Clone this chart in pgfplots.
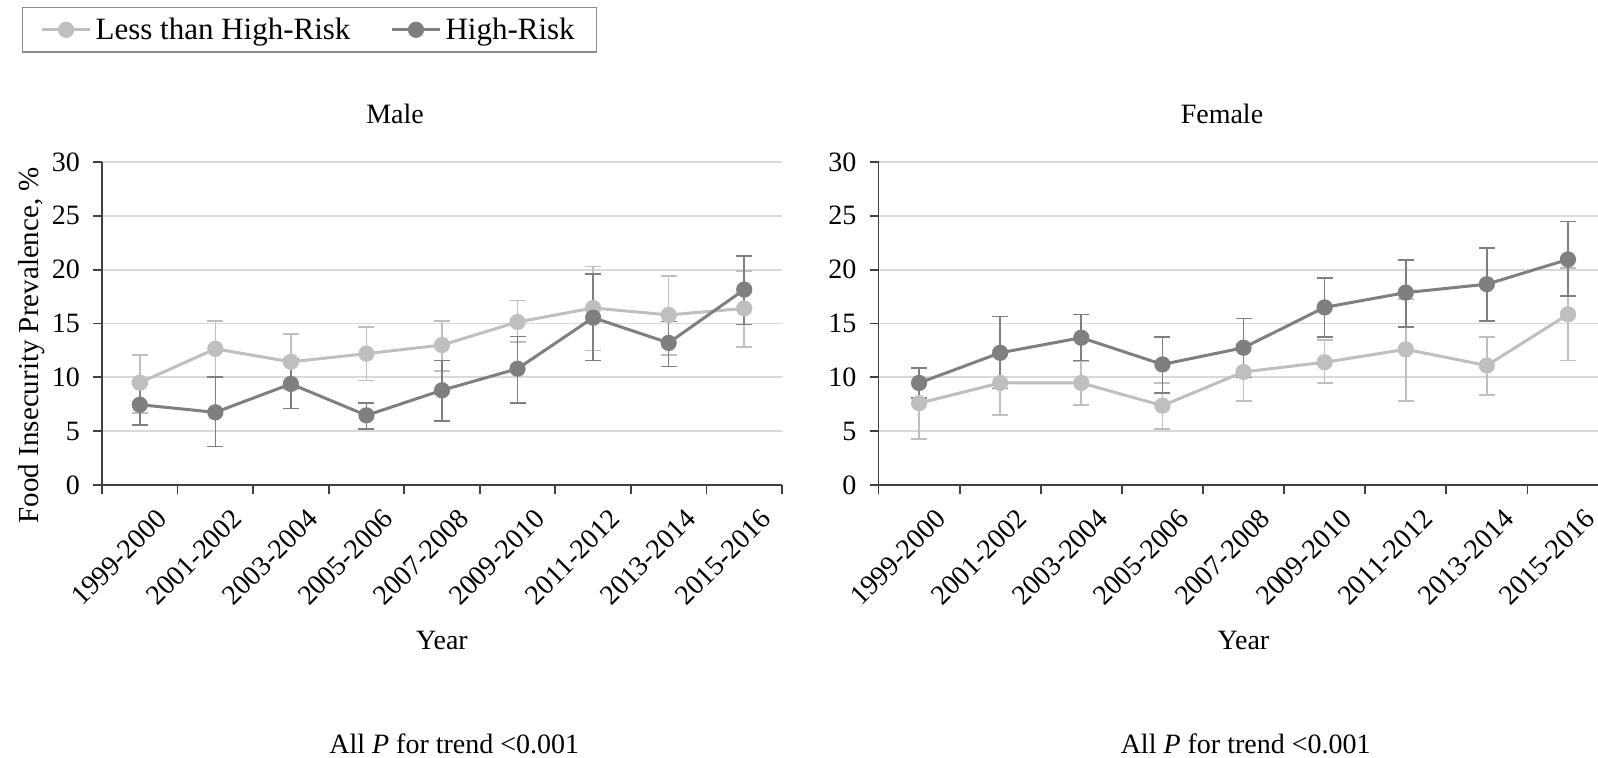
\documentclass[border=0pt]{standalone}
\usepackage{pgfplots}
\pgfplotsset{compat=1.18}
\usepackage{pgfplotstable}
\usepackage{fontspec}
\setmainfont{Liberation Serif}
\definecolor{lightser}{HTML}{BFBFBF}
\definecolor{darkser}{HTML}{7F7F7F}
\definecolor{gridc}{HTML}{D9D9D9}
\definecolor{axc}{HTML}{404040}

% x y plus minus
\pgfplotstableread{
x y ep em
0 9.5 2.6 2.8
1 12.65 2.6 2.6
2 11.44 2.56 2.5
3 12.2 2.5 2.5
4 13.0 2.26 2.4
5 15.14 2.0 1.84
6 16.44 3.86 3.94
7 15.8 3.6 3.7
8 16.4 3.5 3.6
}\maleLow
\pgfplotstableread{
x y ep em
0 7.46 1.9 1.9
1 6.75 3.29 3.18
2 9.39 2.3 2.3
3 6.47 1.13 1.27
4 8.8 2.76 2.83
5 10.8 3.0 3.2
6 15.54 4.06 3.98
7 13.2 2.0 2.2
8 18.15 3.11 3.25
}\maleHigh
\pgfplotstableread{
x y ep em
0 7.6 2.4 3.34
1 9.48 3.0 2.98
2 9.48 2.05 2.05
3 7.37 2.13 2.17
4 10.5 2.6 2.67
5 11.4 2.06 1.92
6 12.6 4.7 4.77
7 11.1 2.67 2.74
8 15.85 4.3 4.29
}\femaleLow
\pgfplotstableread{
x y ep em
0 9.48 1.4 1.4
1 12.28 3.36 3.3
2 13.68 2.17 2.12
3 11.2 2.57 2.65
4 12.75 2.7 2.75
5 16.5 2.7 2.73
6 17.87 3.03 3.17
7 18.65 3.35 3.39
8 20.95 3.51 3.42
}\femaleHigh

\pgfplotsset{
  panel/.style={
    scale only axis,
    anchor=south west,
    height=161.5pt,
    xmin=-0.5, xmax=8.5,
    ymin=0, ymax=30,
    ytick={0,5,...,30},
    xtick={0,...,8},
    xticklabels={1999-2000,2001-2002,2003-2004,2005-2006,2007-2008,2009-2010,2011-2012,2013-2014,2015-2016},
    minor xtick={-0.5,0.5,...,8.5},
    major x tick style={draw=none},
    tick align=outside,
    major tick length=4.5pt,
    minor tick length=4.5pt,
    tick style={axc, line width=0.9pt},
    axis x line*=bottom,
    axis y line*=left,
    axis line style={axc, line width=0.9pt, -},
    ymajorgrids,
    grid style={gridc, line width=0.9pt},
    /pgf/number format/assume math mode=true,
    tick label style={font=\fontsize{14}{16}\selectfont},
    yticklabel style={xshift=-3pt},
    xticklabel style={rotate=45, anchor=east, xshift=4pt, yshift=-15pt},
    title style={anchor=base, font=\fontsize{14}{16}\selectfont},
    xlabel style={anchor=base, font=\fontsize{14}{16}\selectfont},
    clip=false,
  },
  lowser/.style={lightser, line width=1.5pt, mark=*, mark size=3.3pt, mark options={fill=lightser, draw=lightser},
    error bars/.cd, y dir=both, y explicit,
    error bar style={lightser, line width=0.8pt},
    error mark options={rotate=90, lightser, mark size=4pt, line width=0.8pt}},
  highser/.style={darkser, line width=1.5pt, mark=*, mark size=3.3pt, mark options={fill=darkser, draw=darkser},
    error bars/.cd, y dir=both, y explicit,
    error bar style={darkser, line width=0.8pt},
    error mark options={rotate=90, darkser, mark size=4pt, line width=0.8pt}},
}

\begin{document}
\begin{tikzpicture}
\begin{axis}[panel,
  at={(51pt,136pt)}, width=340pt,
  title={Male}, title style={at={(axis description cs:0.431,1.081)}},
  xlabel={Year}, xlabel style={at={(axis description cs:0.5,-0.508)}},
  ylabel={Food Insecurity Prevalence, \%},
  ylabel style={at={(axis description cs:-0.094,0.433)}, rotate=0, anchor=base, font=\fontsize{14.5}{16}\selectfont},
  legend columns=2,
  legend style={at={(axis description cs:-0.1176,1.48)}, anchor=north west,
    draw=black!45, line width=0.6pt, font=\fontsize{15.5}{18}\selectfont,
    inner xsep=9pt, inner ysep=3pt,
    /tikz/every even column/.append style={column sep=18pt}},
  legend image code/.code={\draw[mark repeat=2,mark phase=2,line width=1.5pt] plot coordinates {(0pt,0pt)(12pt,0pt)(24pt,0pt)};},
]
\addplot[lowser] table[x=x,y=y,y error plus=ep,y error minus=em] {\maleLow};
\addlegendentry{Less than High-Risk}
\addplot[highser] table[x=x,y=y,y error plus=ep,y error minus=em] {\maleHigh};
\addlegendentry{High-Risk}
\node[anchor=base, font=\fontsize{14}{16}\selectfont] at (axis description cs:0.518,-0.830) {All \textit{P} for trend <0.001};
\end{axis}
\begin{axis}[panel,
  at={(439.25pt,136pt)}, width=365pt,
  title={Female}, title style={at={(axis description cs:0.4705,1.081)}},
  xlabel={Year}, xlabel style={at={(axis description cs:0.5,-0.508)}},
]
\addplot[lowser] table[x=x,y=y,y error plus=ep,y error minus=em] {\femaleLow};
\addplot[highser] table[x=x,y=y,y error plus=ep,y error minus=em] {\femaleHigh};
\node[anchor=base, font=\fontsize{14}{16}\selectfont] at (axis description cs:0.503,-0.830) {All \textit{P} for trend <0.001};
\end{axis}
\pgfresetboundingbox
\path (0,0) rectangle (799pt,378.5pt);
\end{tikzpicture}
\end{document}
